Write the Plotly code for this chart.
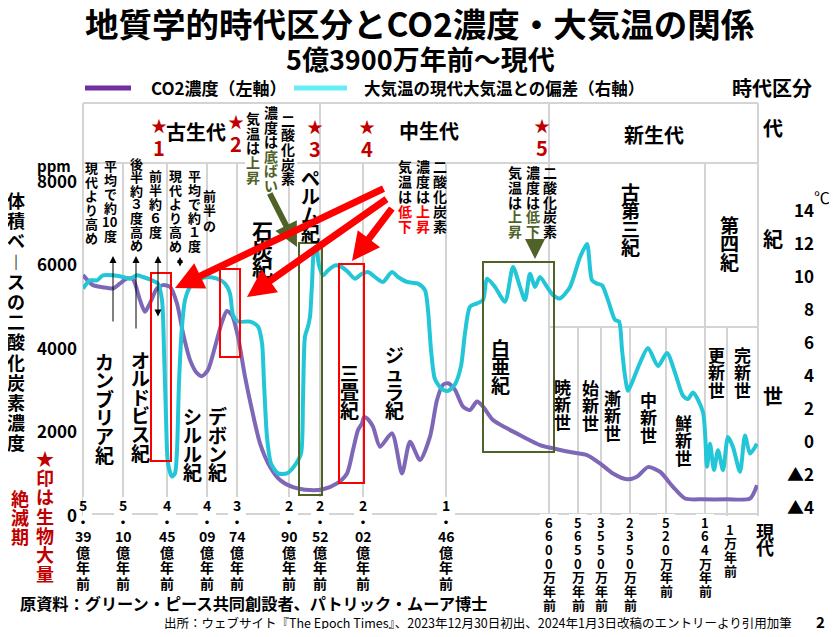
import re

import plotly.graph_objects as go

# uneven geological timeline: x positions of the boundaries on the chart axis
BOUNDARY_POS = [0, 40, 84, 124, 154, 206, 237, 280, 363, 466, 495, 518, 547, 583, 622, 644, 675]
AGE_LABELS = [
    "5・39億年前", "5・10億年前", "4・45億年前", "4・09億年前", "3・74億年前", "2・90億年前",
    "2・52億年前", "2・02億年前", "1・46億年前", "6600万年前", "5650万年前", "3550万年前",
    "2350万年前", "520万年前", "164万年前", "1万年前", "現代",
]

# CO2 concentration (ppm, left axis)
CO2_POS = [
    0, 10, 20, 30, 37, 44, 50, 57, 62, 67,
    74, 80, 87, 94, 100, 107, 114, 119, 125, 132,
    139, 144, 149, 155, 162, 169, 177, 187, 197, 210,
    227, 240, 254, 264, 270, 275, 279, 281, 284, 290,
    297, 309, 319, 327, 337, 347, 354, 360, 365, 372,
    380, 387, 394, 400, 410, 424, 440, 457, 474, 490,
    504, 517, 530, 544, 554, 565, 577, 590, 602, 620,
    644, 667, 674,
]
CO2_PPM = [
    5770, 5530, 5480, 5450, 5570, 5690, 5670, 5170, 4890, 5100,
    5450, 5530, 5490, 5090, 4380, 3740, 3420, 3350, 3500, 4050,
    4650, 4910, 4810, 4290, 3340, 2540, 1740, 1180, 860, 690,
    620, 640, 780, 1020, 1580, 2060, 2220, 2370, 2340, 2140,
    1660, 1980, 1020, 1780, 1340, 1900, 2780, 3140, 3180, 3020,
    2620, 2540, 2740, 2620, 2300, 2100, 1900, 1700, 1600, 1520,
    1460, 1260, 1020, 880, 940, 1170, 1060, 700, 420, 400,
    400, 420, 740,
]

# temperature deviation from today (deg C, right axis)
TEMP_POS = [
    0, 5, 7, 14, 20, 30, 40, 47, 54, 60,
    69, 75, 79, 81, 83, 85, 89, 92, 94, 96,
    99, 102, 107, 114, 124, 134, 142, 147, 150, 155,
    167, 175, 179, 181, 184, 188, 195, 204, 212, 218,
    220, 222, 225, 227, 229, 231, 233, 236, 240, 245,
    252, 259, 265, 272, 279, 285, 294, 300, 309, 315,
    324, 335, 342, 345, 348, 352, 359, 365, 372, 378,
    382, 387, 394, 400, 404, 412, 422, 430, 437, 442,
    447, 452, 457, 464, 470, 477, 487, 497, 504, 509,
    514, 519, 525, 532, 536, 539, 542, 545, 549, 557,
    565, 575, 584, 592, 600, 605, 610, 620, 624, 627,
    631, 635, 640, 645, 650, 657, 662, 667, 674,
]
TEMP_C = [
    9.3, 9.7, 9.8, 9.8, 10.1, 10.1, 10.0, 9.9, 10.1, 10.0,
    9.8, 9.6, 8.6, 5.6, 1.5, -1.3, -2.1, -1.9, -0.5, 3.6,
    7.0, 8.6, 9.4, 9.8, 10.0, 9.9, 9.6, 9.0, 7.7, 7.3,
    7.3, 7.0, 6.0, 3.6, 0.3, -1.3, -1.9, -1.9, -1.4, -0.7,
    2.6, 6.4, 7.0, 7.6, 9.6, 11.6, 11.8, 10.7, 10.1, 10.4,
    10.7, 10.6, 10.3, 9.9, 10.2, 10.3, 9.9, 9.7, 10.3, 10.0,
    9.7, 9.6, 9.2, 8.0, 5.6, 3.8, 3.2, 3.1, 3.5, 4.6,
    6.6, 8.2, 8.4, 8.6, 9.9, 9.4, 8.5, 10.6, 9.4, 8.6,
    10.2, 9.4, 10.0, 9.4, 8.9, 8.7, 9.4, 11.2, 12.0, 9.8,
    9.6, 9.5, 8.6, 7.4, 7.3, 5.6, 4.0, 3.1, 3.6, 4.8,
    5.7, 4.6, 5.4, 4.2, 2.8, 2.6, 3.0, 1.8, -1.5, -0.1,
    -1.7, -0.5, -1.7, 0.3, -0.3, -1.8, 0.4, -0.7, -0.1,
]

CO2_TICKS = [0, 2000, 4000, 6000, 8000]
TEMP_TICKS = [-4, -2, 0, 2, 4, 6, 8, 10, 12, 14]
TEMP_TICKTEXT = ["▲4", "▲2", "0", "2", "4", "6", "8", "10", "12", "14"]

ERAS = ["古生代", "中生代", "新生代"]
PERIODS = ["カンブリア紀", "オルドビス紀", "シルル紀", "デボン紀", "石炭紀", "ペルム紀",
           "三畳紀", "ジュラ紀", "白亜紀", "古第三紀", "第四紀"]
EPOCHS = ["暁新世", "始新世", "漸新世", "中新世", "鮮新世", "更新世", "完新世"]

FONT = "Noto Sans CJK JP"
PURPLE = "#7f67b7"
CYAN = "#22c6d6"
RED = "#ff0000"
DARKRED = "#c00000"
OLIVE = "#4f6228"
GRID = "#d4d4d4"

# the page body has an 8px margin, so the figure is drawn 8px in from the window corner
OFF = 8
W, H = 837 - 2 * OFF, 637 - 2 * OFF
L, R, T = 83, 758, 103          # plot edges in window pixels
B_AXIS = 516                    # y pixel of 0 ppm
B = 530                         # bottom of the plotting paper (a little below 0)
PAPER_W = 744
PAPER_H = B - T
PPM_PER_PX = 8000 / (B_AXIS - 182)
DEG_PER_PX = 1 / 16.5
T_ZERO_PX = 442


def px(x, y):
    """Window pixel position -> paper coordinates."""
    return (x - L) / PAPER_W, (B - y) / PAPER_H


annotations = []
shapes = []


def text(x, y, s, size, color="black", bold=True, anchor="center"):
    fx, fy = px(x, y)
    annotations.append(dict(
        x=fx, y=fy, xref="paper", yref="paper", text=s, showarrow=False,
        xanchor=anchor, yanchor="middle",
        font=dict(family=FONT, size=size, color=color, weight="bold" if bold else "normal"),
    ))


def toks(s, color="black", group=True):
    parts = re.findall(r"[0-9]+|.", s) if group else list(s)
    return [(p, color) for p in parts]


def vtext(x, y, tokens, size, pitch, bold=True):
    for i, (t, c) in enumerate(tokens):
        t = {"ー": "︱"}.get(t, t)
        text(x, y + i * pitch, t, size, c, bold=bold)


def line(x0, y0, x1, y1, color=GRID, width=2, layer="below"):
    a0, b0 = px(x0, y0)
    a1, b1 = px(x1, y1)
    shapes.append(dict(type="line", xref="paper", yref="paper", x0=a0, y0=b0, x1=a1, y1=b1,
                       line=dict(color=color, width=width), layer=layer))


def vgrid(i, y0, y1):
    _, b0 = px(0, y0)
    _, b1 = px(0, y1)
    shapes.append(dict(type="line", xref="x", yref="paper", x0=BOUNDARY_POS[i], x1=BOUNDARY_POS[i],
                       y0=b0, y1=b1, line=dict(color=GRID, width=2), layer="below"))


def box(x0, y0, x1, y1, color, fill=None, width=2):
    a0, b0 = px(x0, y0)
    a1, b1 = px(x1, y1)
    shapes.append(dict(type="rect", xref="paper", yref="paper", x0=a0, y0=b0, x1=a1, y1=b1,
                       line=dict(color=color, width=width), fillcolor=fill, layer="above"))


def arrow(x0, y0, x1, y1, color, width, size=1.0, side="end"):
    fx, fy = px(x1, y1)
    annotations.append(dict(
        x=fx, y=fy, xref="paper", yref="paper", ax=x0 - x1, ay=y0 - y1, text="",
        showarrow=True, arrowhead=2, arrowsize=size, arrowwidth=width, arrowcolor=color,
        arrowside=side, standoff=0, startstandoff=0,
    ))


fig = go.Figure()
fig.add_trace(go.Scatter(
    x=CO2_POS, y=CO2_PPM, mode="lines", name="CO2濃度（左軸）",
    line=dict(color=PURPLE, width=4, shape="spline", smoothing=0.7),
    hoverinfo="skip", showlegend=False,
))
fig.add_trace(go.Scatter(
    x=TEMP_POS, y=TEMP_C, yaxis="y2", mode="lines", name="大気温の現代大気温との偏差（右軸）",
    line=dict(color=CYAN, width=4, shape="spline", smoothing=0.7),
    hoverinfo="skip", showlegend=False,
))

# frame and period grid
line(L, T, R, T)
line(L, 163, R, 163)
line(L, T, L, B_AXIS)
line(R, T, R, B_AXIS)
line(549, 327, R, 327)
line(L, 514, R, 514)
line(OFF, 635, 837, 635)
vgrid(6, T, 163)
vgrid(9, T, 163)
for i in range(1, 9):
    vgrid(i, 163, B_AXIS)
vgrid(9, 163, B_AXIS)
vgrid(14, 163, B_AXIS)
for i in (10, 11, 12, 13, 15):
    vgrid(i, 327, B_AXIS)

# highlight boxes
box(151, 273, 171, 461, RED)
box(220, 269, 240, 357, RED)
box(339, 264, 364, 483, RED)
box(299, 243, 322, 495, OLIVE)
box(483, 262, 554, 452, OLIVE)

# titles and legend
text(420, 22, "地質学的時代区分とCO2濃度・大気温の関係", 33.5)
text(420, 58, "5億3900万年前～現代", 27)
line(85, 88, 131, 88, "#7030a0", 5, "above")
text(149, 88, "CO2濃度（左軸）", 17, anchor="left")
line(294, 88, 347, 88, "#66eef5", 5, "above")
text(362, 88, "大気温の現代大気温との偏差（右軸）", 16.5, anchor="left")
text(772, 88, "時代区分", 20)
text(773, 128, "代", 20)
text(773, 238, "紀", 20)
text(773, 395, "世", 20)
text(54, 165, "ppm", 15)
text(822, 197, "℃", 16, bold=False)

# eras and mass extinction stars
for name, (x, y) in zip(ERAS, [(196, 132), (429, 131), (654, 135)]):
    text(x, y, name, 20)
for n, (x, y) in enumerate([(159, 125), (236, 121), (315, 126), (367, 126), (542, 125)], start=1):
    text(x, y, "★", 16, DARKRED)
    text(x, y + 22, str(n), 20, DARKRED)

# periods and epochs (vertical text)
period_xy = [(104, 361), (140, 359), (192, 416), (217, 416), (262, 230), (310, 177),
             (349, 372), (394, 354), (501, 347), (630, 191), (729, 224)]
for name, (x, y) in zip(PERIODS, period_xy):
    size = 21 if name == "石炭紀" else 19
    vtext(x, y, toks(name), size, 18.6)
epoch_xy = [(562, 386), (590, 387), (612, 397), (648, 399), (683, 422), (716, 354), (742, 354)]
for name, (x, y) in zip(EPOCHS, epoch_xy):
    vtext(x, y, toks(name), 17, 17.5)

# notes on the Paleozoic
vtext(91, 167, toks("現代より高め"), 13, 14)
vtext(110, 165, toks("平均で約10度"), 13, 14)
vtext(136, 163, toks("後半約３度高め"), 13, 13.6)
vtext(155, 175, toks("前半約６度"), 13, 14)
vtext(175, 175, toks("現代より高め"), 13, 14)
vtext(194, 175, toks("平均で約１度"), 13, 14)
vtext(209, 195, toks("前半の"), 13, 15)
arrow(113, 323, 113, 256, "black", 1, 1.4)
arrow(136, 330, 136, 256, "black", 1, 1.4)
arrow(158, 318, 158, 256, "black", 1, 1.4, "end+start")
arrow(180, 268, 180, 257, "black", 1, 1.2, "end+start")

# white patch where the note crosses the era band line
box(245, 158, 297, 168, "white", "white", 0)
vtext(288, 120, toks("二酸化炭素"), 14, 14.5)
vtext(271, 112, toks("濃度は") + toks("底ばい", OLIVE), 14, 14.6)
vtext(253, 118, toks("気温は") + toks("上昇", OLIVE), 14, 14.7)
arrow(269, 192, 297, 247, OLIVE, 6, 0.8)

vtext(440, 166, toks("二酸化炭素"), 14, 15)
vtext(423, 166, toks("濃度は") + toks("上昇", RED), 14, 15)
vtext(405, 166, toks("気温は") + toks("低下", RED), 14, 15)
arrow(385, 188, 175, 288, RED, 7, 0.8)
arrow(388, 198, 247, 297, RED, 7, 0.8)
arrow(393, 207, 352, 261, RED, 7, 0.8)

vtext(550, 172, toks("二酸化炭素"), 14, 14.8)
vtext(533, 172, toks("濃度は") + toks("低下", OLIVE), 14, 14.8)
vtext(515, 172, toks("気温は") + toks("上昇", OLIVE), 14, 14.8)
arrow(535, 242, 535, 259, OLIVE, 5, 0.8)

# left axis title and extinction note
vtext(16, 200, toks("体積ベースの二酸化炭素濃度"), 18, 20.2)
vtext(45, 458, toks("★印は生物大量", DARKRED), 18, 19.2)
vtext(20, 498, toks("絶滅期", DARKRED), 18, 19.2)

# age labels under each boundary, on a white strip that breaks the grid lines
for pos, lab in zip(BOUNDARY_POS, AGE_LABELS):
    if lab == "現代":
        tk, y0, pitch, size, dx = toks(lab), 531, 16, 18, 7
    elif "億" in lab:
        tk, y0, pitch, size, dx = toks(lab), 505, 15.5, 14, 0
    else:
        y0 = 508 if len(lab) > 7 else (529 if len(lab) == 4 else 522)
        tk, pitch, size, dx = toks(lab, group=False), 13.7, 13, 0
    if lab == "1万年前":
        dx = 3
    _, top = px(0, y0 - 8)
    _, bot = px(0, y0 + (len(tk) - 1) * pitch + 8)
    shapes.append(dict(type="rect", xref="x", yref="paper", xsizemode="pixel", xanchor=pos,
                       x0=dx - 9, x1=dx + 9, y0=bot, y1=top, fillcolor="white",
                       line=dict(width=0), layer="above"))
    for j, (t, c) in enumerate(tk):
        _, fy = px(0, y0 + j * pitch)
        annotations.append(dict(
            x=pos, y=fy, xref="x", yref="paper", xshift=dx, text=t, showarrow=False,
            xanchor="center", yanchor="middle",
            font=dict(family=FONT, size=size, color=c, weight="bold"),
        ))

# footer
text(18, 603, "原資料：グリーン・ピース共同創設者、パトリック・ムーア博士", 16.2, anchor="left")
text(162, 622, "出所：ウェブサイト『The Epoch Times』、2023年12月30日初出、2024年1月3日改稿のエントリーより引用加筆",
     12.5, bold=False, anchor="left")
text(820, 621, "2", 15)

ppm_lo = -(B - B_AXIS) * PPM_PER_PX
ppm_hi = (B_AXIS - T) * PPM_PER_PX
deg_lo = (T_ZERO_PX - B) * DEG_PER_PX
deg_hi = (T_ZERO_PX - T) * DEG_PER_PX

fig.update_layout(
    width=W,
    height=H,
    margin=dict(l=L - OFF, r=W - (L - OFF) - PAPER_W, t=T - OFF, b=H - (B - OFF), pad=0),
    paper_bgcolor="white",
    plot_bgcolor="white",
    showlegend=False,
    font=dict(family=FONT, color="black"),
    xaxis=dict(domain=[0, (R - L) / PAPER_W], range=[0, BOUNDARY_POS[-1]], showticklabels=False,
               showgrid=False, zeroline=False, showline=False, ticks=""),
    yaxis=dict(range=[ppm_lo, ppm_hi], tickvals=CO2_TICKS, showgrid=False, zeroline=False,
               showline=False, ticks="", ticklabelstandoff=5,
               tickfont=dict(family=FONT, size=17, color="black", weight="bold")),
    yaxis2=dict(range=[deg_lo, deg_hi], overlaying="y", side="right", anchor="free",
                position=(817 - L) / PAPER_W, tickvals=TEMP_TICKS, ticktext=TEMP_TICKTEXT,
                ticklabelposition="inside", showgrid=False, zeroline=False, showline=False, ticks="",
                tickfont=dict(family=FONT, size=17, color="black", weight="bold")),
    shapes=shapes,
    annotations=annotations,
)

fig.write_html("out.html")
